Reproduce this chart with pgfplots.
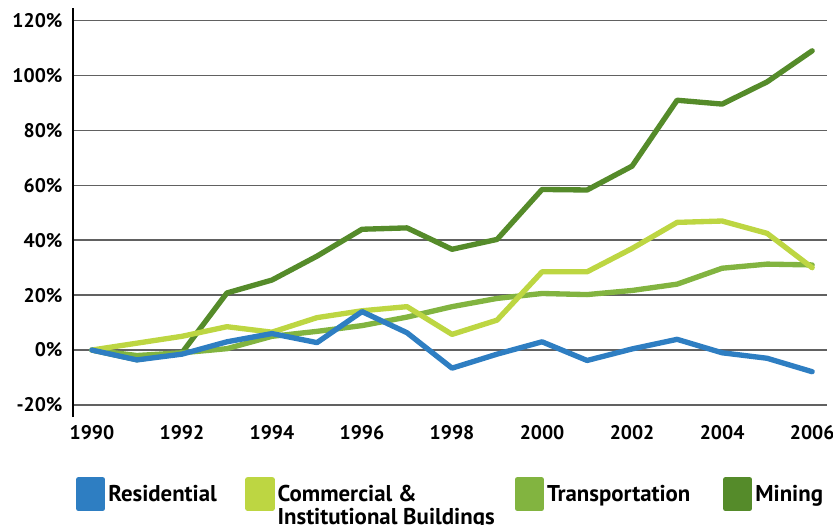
\documentclass[border=0pt]{standalone}
\usepackage{fontspec}
\setmainfont{PT Sans}
\usepackage{pgfplots}
\pgfplotsset{compat=1.18}
\definecolor{cRes}{HTML}{2E7EC2}
\definecolor{cCom}{HTML}{BDD642}
\definecolor{cTra}{HTML}{82B440}
\definecolor{cMin}{HTML}{558B2A}
\begin{document}
\begin{tikzpicture}
\path[use as bounding box] (-43.8pt,-64.2pt) rectangle (456pt,250.2pt);
\begin{axis}[
  scale only axis, width=452.4pt, height=245.4pt,
  xmin=1989.58, xmax=2006.33, ymin=-24.4, ymax=124.6,
  axis x line*=bottom, axis y line*=left,
  x axis line style={draw=none},
  y axis line style={black, line width=0.7pt},
  xtick={1990,1992,...,2006},
  xticklabels={1990,1992,1994,1996,1998,2000,2002,2004,2006},
  ytick={-20,0,20,40,60,80,100,120},
  yticklabels={-20\%,0\%,20\%,40\%,60\%,80\%,100\%,120\%},
  major tick length=0pt,
  ymajorgrids, grid style={color=black!62, line width=0.9pt},
  ticklabel style={font=\fontsize{11.8}{12}\selectfont\bfseries},
  yticklabel style={xshift=-2.8pt},
  xticklabel style={yshift=-1.5pt},
  every axis plot/.append style={line width=3.2pt, line join=round, line cap=round},
  reverse legend,
  legend columns=4,
  legend style={at={(axis description cs:0.004,-0.1467)}, anchor=north west,
    draw=none, fill=none, inner sep=0pt, outer sep=0pt, column sep=0pt, row sep=0pt,
    nodes={inner sep=0pt, anchor=base west, font=\fontsize{13.7}{13.5}\selectfont\bfseries}},
  legend image code/.code={\fill[#1] (0pt,-4.2pt) rectangle (14.4pt,13.2pt);},
]
\addplot[cMin] coordinates {(1990,0) (1991,-3.5) (1992,-1) (1993,20.8) (1994,25.5) (1995,34.2) (1996,44) (1997,44.5) (1998,36.7) (1999,40.3) (2000,58.5) (2001,58.3) (2002,67) (2003,91) (2004,89.6) (2005,97.7) (2006,109)};
\addlegendentry{\hspace{1.8pt}Mining}
\addplot[cTra] coordinates {(1990,0) (1991,-2) (1992,-1) (1993,0.5) (1994,5) (1995,6.8) (1996,8.9) (1997,12) (1998,15.8) (1999,18.8) (2000,20.6) (2001,20.2) (2002,21.7) (2003,24) (2004,29.8) (2005,31.3) (2006,31)};
\addlegendentry{\makebox[107.4pt][l]{\hspace{1.8pt}Transportation}}
\addplot[cCom] coordinates {(1990,0) (1991,2.5) (1992,5) (1993,8.5) (1994,6.5) (1995,11.8) (1996,14.3) (1997,15.8) (1998,5.7) (1999,10.9) (2000,28.5) (2001,28.5) (2002,37) (2003,46.5) (2004,47) (2005,42.5) (2006,30)};
\addlegendentry{\makebox[144pt][l]{\hspace{1.8pt}\begin{tabular}[t]{@{}l@{}}Commercial \&\\Institutional Buildings\end{tabular}}}
\addplot[cRes] coordinates {(1990,0) (1991,-3.6) (1992,-1.5) (1993,3) (1994,6) (1995,2.7) (1996,14) (1997,6.3) (1998,-6.6) (1999,-1.5) (2000,3) (2001,-3.8) (2002,0.4) (2003,3.9) (2004,-1) (2005,-3) (2006,-7.9)};
\addlegendentry{\makebox[84pt][l]{\hspace{1.8pt}Residential}}
\end{axis}
\end{tikzpicture}
\end{document}
